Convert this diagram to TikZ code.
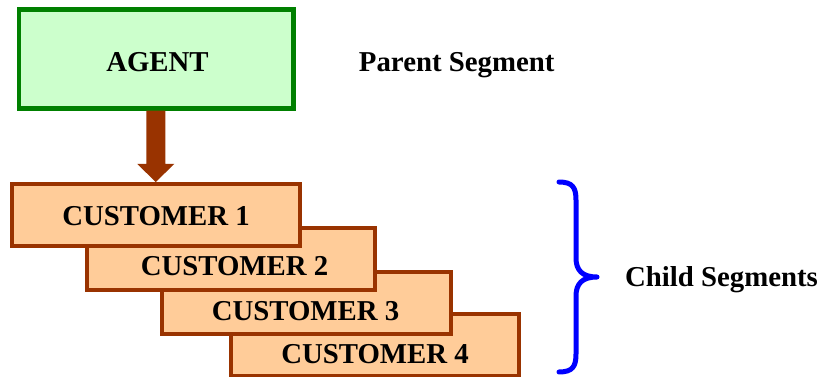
\documentclass[tikz,border=0pt]{standalone}
\usepackage{fontspec}
\setmainfont{Liberation Serif}
\definecolor{agentline}{RGB}{0,128,0}
\definecolor{agentfill}{RGB}{204,255,204}
\definecolor{custline}{RGB}{153,51,0}
\definecolor{custfill}{RGB}{255,204,153}
\definecolor{bracecol}{RGB}{0,0,255}
\tikzset{
  agentbox/.style={draw=agentline, fill=agentfill, line width=4.5pt,
    rectangle, inner sep=0pt, minimum width=274.5pt, minimum height=99pt},
  custbox/.style={draw=custline, fill=custfill, line width=4pt,
    rectangle, inner sep=0pt, minimum width=288.5pt, minimum height=62pt},
  lbl/.style={anchor=base, inner sep=0pt,
    font=\fontsize{28.8pt}{34pt}\selectfont\bfseries},
  linkarrow/.style={fill=custline},
  bracepath/.style={draw=bracecol, line width=5pt, line cap=round, line join=round}
}
\begin{document}
\begin{tikzpicture}[x=1pt, y=-1pt]
  \useasboundingbox (0,0) rectangle (820,377);

  % parent segment
  \node[agentbox] (agent) at (156.25,59) {};
  \node[lbl] (agenttxt) at (157.5,72) {AGENT};
  \node[lbl] (parent) at (456.7,72) {Parent Segment};

  % child segments, stacked so each one lies over the next
  \node[custbox] (c4) at (375,345) {};
  \node[custbox] (c3) at (306.5,302.5) {};
  \node[custbox] (c2) at (231,259) {};
  \node[custbox] (c1) at (155.75,215) {};
  \node[lbl] (t1) at (156,225.7) {CUSTOMER 1};
  \node[lbl] (t2) at (234.5,276) {CUSTOMER 2};
  \node[lbl] (t3) at (305.5,320.7) {CUSTOMER 3};
  \node[lbl] (t4) at (375,363.3) {CUSTOMER 4};

  % parent to first child: thick block arrow
  \coordinate (shafttop) at (agent.south -| c1.north);
  \fill[linkarrow] ([xshift=-9.5pt]shafttop) -- ([xshift=9.5pt]shafttop)
    -- ([xshift=9.5pt, yshift=18pt]c1.north)
    -- ([xshift=18.5pt, yshift=18pt]c1.north)
    -- (c1.north)
    -- ([xshift=-18.5pt, yshift=18pt]c1.north)
    -- ([xshift=-9.5pt, yshift=18pt]c1.north) -- cycle;

  % brace grouping the children
  \draw[bracepath] (559,182) .. controls (573,182) and (576,188) .. (576,200)
    -- (576,258) .. controls (576,270) and (582,277) .. (597,277)
    .. controls (582,277) and (576,284) .. (576,296)
    -- (576,354) .. controls (576,366) and (573,372) .. (559,372);
  \node[lbl] (child) at (721.5,287) {Child Segments};
\end{tikzpicture}
\end{document}
